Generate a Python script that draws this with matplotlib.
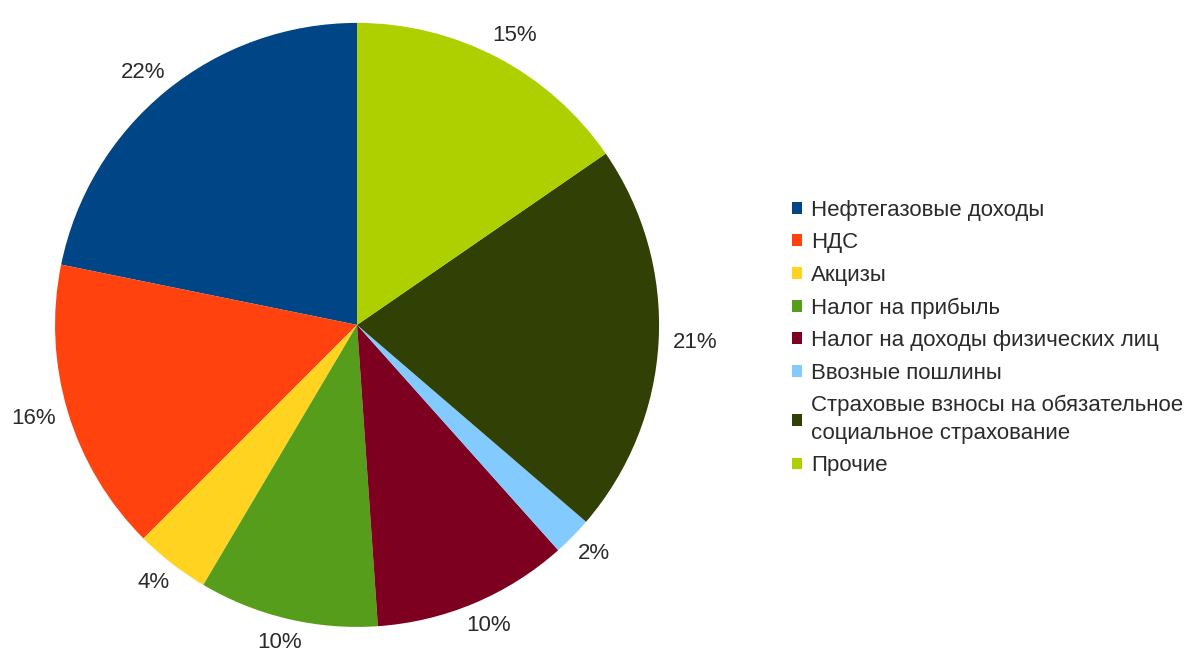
import numpy as np
import matplotlib.pyplot as plt

plt.rcParams['font.family'] = ['Liberation Sans', 'DejaVu Sans']

# доли доходов бюджета, %
categories = ['Нефтегазовые доходы', 'НДС', 'Акцизы', 'Налог на прибыль',
              'Налог на доходы физических лиц', 'Ввозные пошлины',
              'Страховые взносы на обязательное\nсоциальное страхование', 'Прочие']
shares = [21.8, 15.7, 4.0, 9.6, 10.5, 2.1, 20.9, 15.4]
colors = ['#004586', '#ff420e', '#ffd320', '#579d1c',
          '#7e0021', '#83caff', '#314004', '#aecf00']

fig = plt.figure(figsize=(11.89, 6.51), dpi=100)
ax = fig.add_axes([0.0463, 0.0369, 0.508, 0.928])

wedges, texts, autotexts = ax.pie(shares, colors=colors, startangle=90,
                                  counterclock=True, radius=1,
                                  autopct='%.0f%%', pctdistance=1.1,
                                  wedgeprops=dict(linewidth=0),
                                  textprops=dict(fontsize=16, color='#2b2b2b'))
ax.set_xlim(-1, 1)
ax.set_ylim(-1, 1)
ax.set_aspect('equal')
ax.axis('off')

# подписи процентов: отступ от края круга с учётом размера текста
fig.canvas.draw()
renderer = fig.canvas.get_renderer()
px = ax.transData.transform((1, 0))[0] - ax.transData.transform((0, 0))[0]
gap = 14 / px
for w, t in zip(wedges, autotexts):
    a = np.deg2rad((w.theta1 + w.theta2) / 2)
    bb = t.get_window_extent(renderer)
    hw, hh = bb.width / 2 / px, bb.height / 2 / px
    x = (1 + gap) * np.cos(a) + hw * np.cos(a)
    y = (1 + gap) * np.sin(a) + hh * np.sin(a)
    t.set_position((x, y))
    t.set_ha('center')
    t.set_va('center')

leg = fig.legend(wedges, categories, loc='center left',
                 bbox_to_anchor=(792 / 1189, 1 - 338 / 651),
                 bbox_transform=fig.transFigure, frameon=False,
                 fontsize=16, handlelength=0.45, handleheight=0.45,
                 handletextpad=0.4, labelspacing=0.52, borderpad=0,
                 borderaxespad=0)
for t in leg.get_texts():
    t.set_color('#2b2b2b')
    t.set_linespacing(1.4)

fig.savefig('out.png', dpi=100)
